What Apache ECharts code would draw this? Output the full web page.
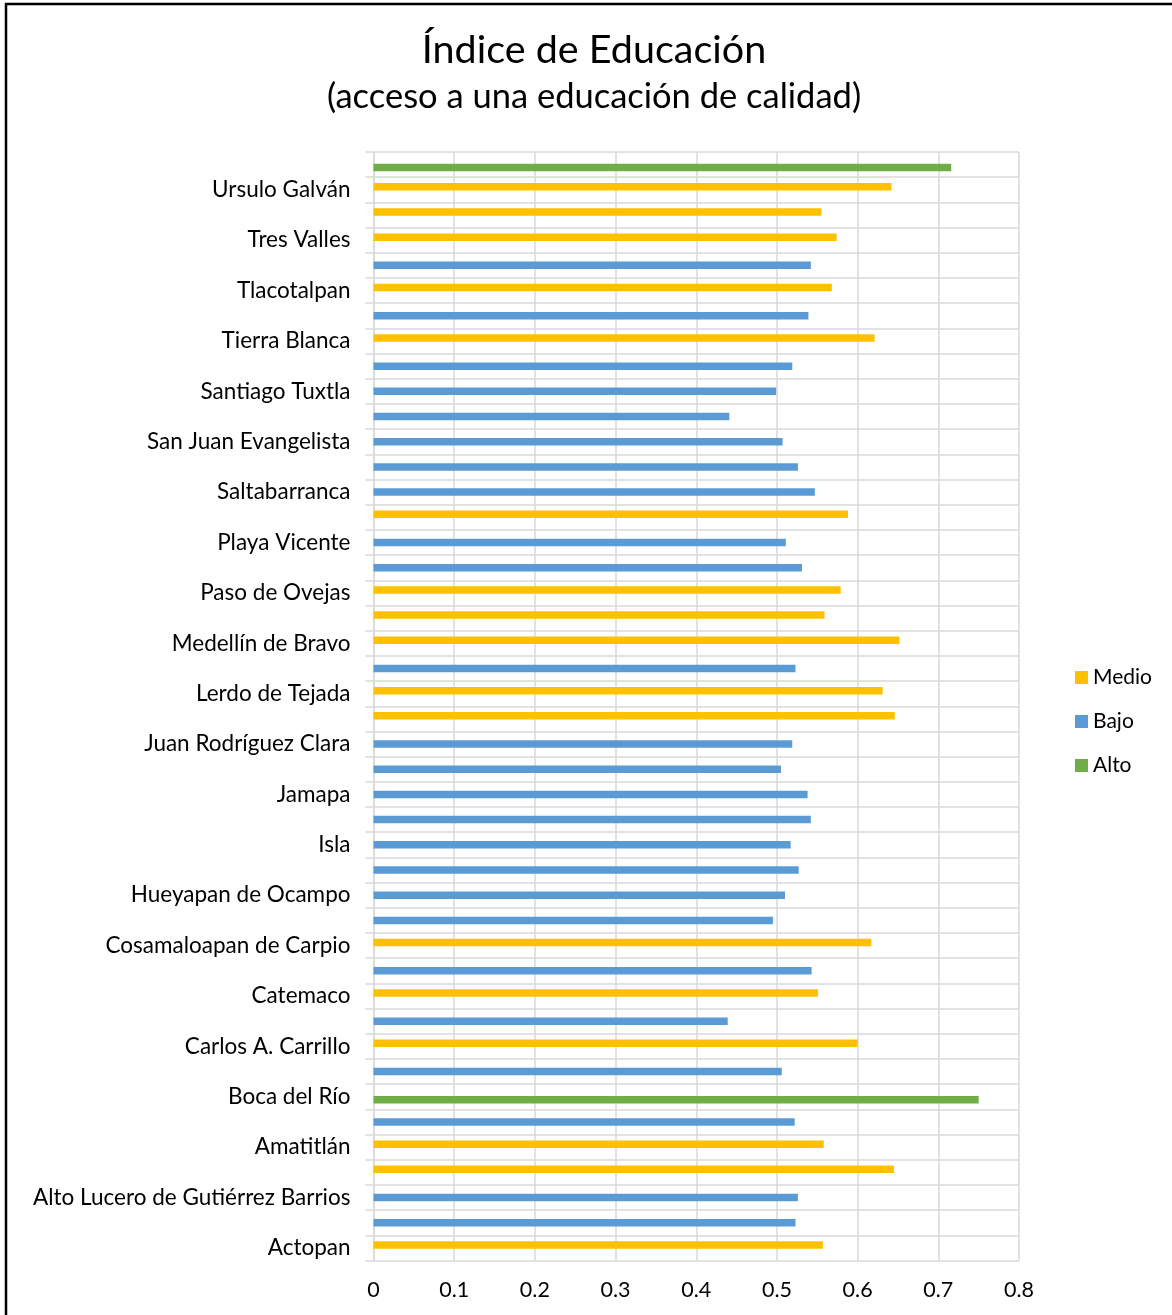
<!DOCTYPE html>
<html>
<head>
<meta charset="utf-8">
<script src="https://cdn.jsdelivr.net/npm/echarts@6/dist/echarts.min.js"></script>
<style>
html,body{margin:0;padding:0;background:#fff;}
#chart{width:1172px;height:1315px;}
</style>
</head>
<body>
<div id="chart"></div>
<script>
// Categories from bottom to top (only every other one is labelled in the reference)
const categories = [
  "Actopan", "Acula", "Alto Lucero de Gutiérrez Barrios", "Alvarado",
  "Amatitlán", "Ángel R. Cabada", "Boca del Río", "Camarón de Tejeda",
  "Carlos A. Carrillo", "Carrillo Puerto", "Catemaco", "Chacaltianguis",
  "Cosamaloapan de Carpio", "Cotaxtla", "Hueyapan de Ocampo", "Ignacio de la Llave",
  "Isla", "Ixmatlahuacan", "Jamapa", "José Azueta",
  "Juan Rodríguez Clara", "La Antigua", "Lerdo de Tejada", "Manlio Fabio Altamirano",
  "Medellín de Bravo", "Otatitlán", "Paso de Ovejas", "Paso del Macho",
  "Playa Vicente", "Puente Nacional", "Saltabarranca", "San Andrés Tuxtla",
  "San Juan Evangelista", "Santiago Sochiapan", "Santiago Tuxtla", "Tesechoacan",
  "Tierra Blanca", "Tlacojalpan", "Tlacotalpan", "Tlalixcoyan",
  "Tres Valles", "Tuxtilla", "Ursulo Galván", "Veracruz"
];
const values = [
  0.557, 0.523, 0.526, 0.645,
  0.558, 0.522, 0.750, 0.506,
  0.600, 0.439, 0.551, 0.543,
  0.617, 0.495, 0.510, 0.527,
  0.517, 0.542, 0.538, 0.505,
  0.519, 0.646, 0.631, 0.523,
  0.652, 0.559, 0.579, 0.531,
  0.511, 0.588, 0.547, 0.526,
  0.507, 0.441, 0.499, 0.519,
  0.621, 0.539, 0.568, 0.542,
  0.574, 0.555, 0.642, 0.716
];
const levels = [
  "Medio", "Bajo", "Bajo", "Medio",
  "Medio", "Bajo", "Alto", "Bajo",
  "Medio", "Bajo", "Medio", "Bajo",
  "Medio", "Bajo", "Bajo", "Bajo",
  "Bajo", "Bajo", "Bajo", "Bajo",
  "Bajo", "Medio", "Medio", "Bajo",
  "Medio", "Medio", "Medio", "Bajo",
  "Bajo", "Medio", "Bajo", "Bajo",
  "Bajo", "Bajo", "Bajo", "Bajo",
  "Medio", "Bajo", "Medio", "Bajo",
  "Medio", "Medio", "Medio", "Alto"
];
const seriesNames = ["Medio", "Bajo", "Alto"];
const seriesColors = ["#FFC000", "#5B9BD5", "#70AD47"];
const xTicks = [0, 0.1, 0.2, 0.3, 0.4, 0.5, 0.6, 0.7, 0.8];
const titleText = "Índice de Educación";
const subtitleText = "(acceso a una educación de calidad)";

const FONT = "Lato, 'Open Sans', sans-serif";
const chart = echarts.init(document.getElementById('chart'), null, {renderer: 'canvas'});

const series = seriesNames.map((name, i) => ({
  name: name,
  type: 'bar',
  barWidth: 7.5,
  barGap: '-60%',
  itemStyle: {color: seriesColors[i]},
  data: values.map((v, k) => levels[k] === name ? v : '-')
}));

const option = {
  animation: false,
  backgroundColor: '#ffffff',
  textStyle: {fontFamily: FONT},
  graphic: [
    {type: 'rect', shape: {x: 6, y: 4, width: 1200, height: 1340},
     style: {fill: 'none', stroke: '#000', lineWidth: 2.5}, z: 100, silent: true},
    {type: 'text', x: 594, y: 50,
     style: {text: titleText, font: "39.5px " + FONT, fill: '#000', textAlign: 'center', textVerticalAlign: 'middle'}},
    {type: 'text', x: 594, y: 97,
     style: {text: subtitleText, font: "34.5px " + FONT, fill: '#000', textAlign: 'center', textVerticalAlign: 'middle'}}
  ],
  legend: {
    orient: 'vertical',
    left: 1070,
    top: 661,
    itemWidth: 13,
    itemHeight: 13,
    itemGap: 21,
    icon: 'rect',
    data: seriesNames,
    textStyle: {fontSize: 21, color: '#000', fontFamily: FONT, lineHeight: 23}
  },
  grid: {left: 373.5, right: 153, top: 152, bottom: 54.5, containLabel: false},
  xAxis: {
    type: 'value',
    min: xTicks[0],
    max: xTicks[xTicks.length - 1],
    interval: 0.1,
    axisLine: {show: false},
    axisTick: {show: false},
    axisLabel: {fontSize: 21.5, color: '#000', margin: 19, fontFamily: FONT,
      formatter: v => String(Math.round(v * 10) / 10)},
    splitLine: {show: true, lineStyle: {color: '#d9d9d9', width: 1.5}}
  },
  yAxis: {
    type: 'category',
    data: categories,
    boundaryGap: true,
    axisLine: {show: true, lineStyle: {color: '#d9d9d9', width: 1.5}},
    axisTick: {show: true, interval: 0, length: 8, lineStyle: {color: '#d9d9d9', width: 1.5}},
    axisLabel: {interval: 1, fontSize: 22.5, color: '#000', margin: 23, fontFamily: FONT},
    splitLine: {show: true, interval: 0, lineStyle: {color: '#d9d9d9', width: 1.5}}
  },
  series: series
};
chart.setOption(option);
</script>
</body>
</html>
